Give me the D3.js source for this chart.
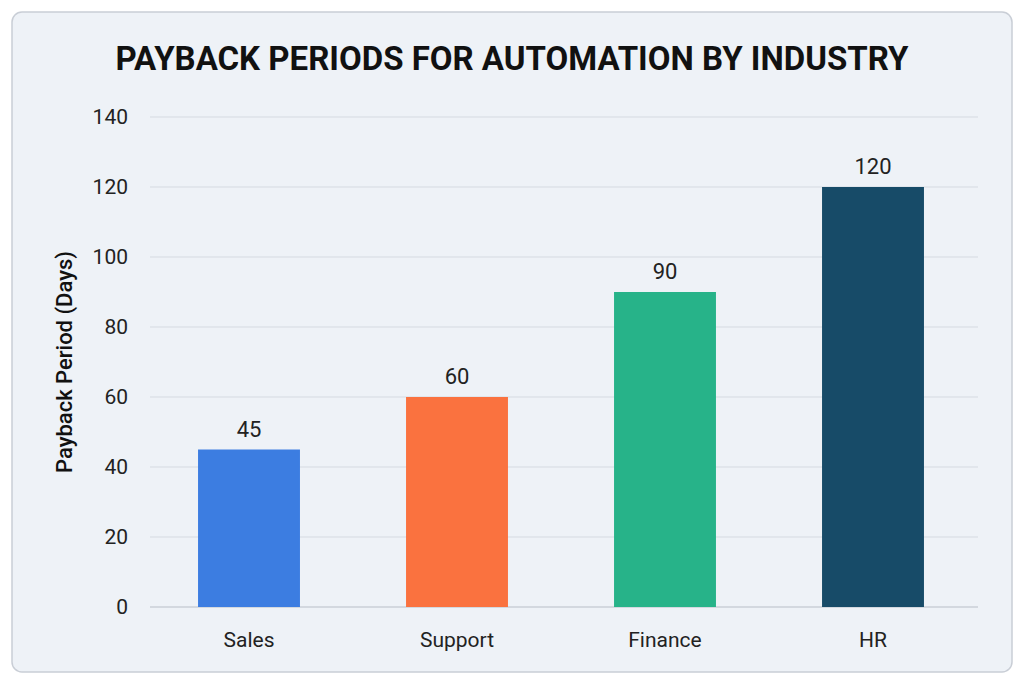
<!DOCTYPE html><html><head><meta charset="utf-8"><script src="https://cdn.jsdelivr.net/npm/d3@7"></script>
<style>body{margin:0;background:#fff}svg{display:block}</style></head><body><svg id="c" width="1024" height="683"></svg>
<script>
const categories=["Sales","Support","Finance","HR"];
const values=[45,60,90,120];
const colors=["#3c7de1","#fa723f","#27b389","#174b68"];
const yTicks=[0,20,40,60,80,100,120,140];
const svg=d3.select("#c");
const F="Roboto, 'Open Sans', sans-serif";
svg.append("rect").attr("x",12).attr("y",12).attr("width",1000).attr("height",660).attr("rx",10)
 .attr("fill","#eef2f7").attr("stroke","#c9ced6").attr("stroke-width",1.5);
svg.append("text").attr("x",512).attr("y",70).attr("text-anchor","middle").attr("font-family",F)
 .attr("font-weight",700).attr("font-size",33).attr("fill","#111").text("PAYBACK PERIODS FOR AUTOMATION BY INDUSTRY");
const y=d3.scaleLinear().domain([0,140]).range([607,117]);
const x=d3.scaleBand().domain(categories).range([145,977]).paddingInner(0.51).paddingOuter(0.255);
const g=svg.append("g");
g.selectAll("line.g").data(yTicks).join("line").attr("x1",150).attr("x2",978)
 .attr("y1",d=>y(d)).attr("y2",d=>y(d)).attr("stroke",d=>d===0?"#b8bec7":"#d5dae1").attr("stroke-width",1);
g.selectAll("text.t").data(yTicks).join("text").attr("x",128).attr("y",d=>y(d)).attr("dy","0.35em")
 .attr("text-anchor","end").attr("font-family",F).attr("font-size",21).attr("fill","#222").text(d=>d);
g.selectAll("rect.b").data(values).join("rect").attr("x",(d,i)=>x(categories[i])).attr("width",x.bandwidth())
 .attr("y",d=>y(d)).attr("height",d=>y(0)-y(d)).attr("fill",(d,i)=>colors[i]);
g.selectAll("text.v").data(values).join("text").attr("x",(d,i)=>x(categories[i])+x.bandwidth()/2).attr("y",d=>y(d)-13)
 .attr("text-anchor","middle").attr("font-family",F).attr("font-size",22).attr("fill","#222").text(d=>d);
g.selectAll("text.c").data(categories).join("text").attr("x",d=>x(d)+x.bandwidth()/2).attr("y",647)
 .attr("text-anchor","middle").attr("font-family",F).attr("font-size",21).attr("fill","#222").text(d=>d);
svg.append("text").attr("transform","translate(72,362) rotate(-90)").attr("text-anchor","middle")
 .attr("font-family",F).attr("font-weight",500).attr("font-size",22).attr("fill","#111").text("Payback Period (Days)");
</script></body></html>
